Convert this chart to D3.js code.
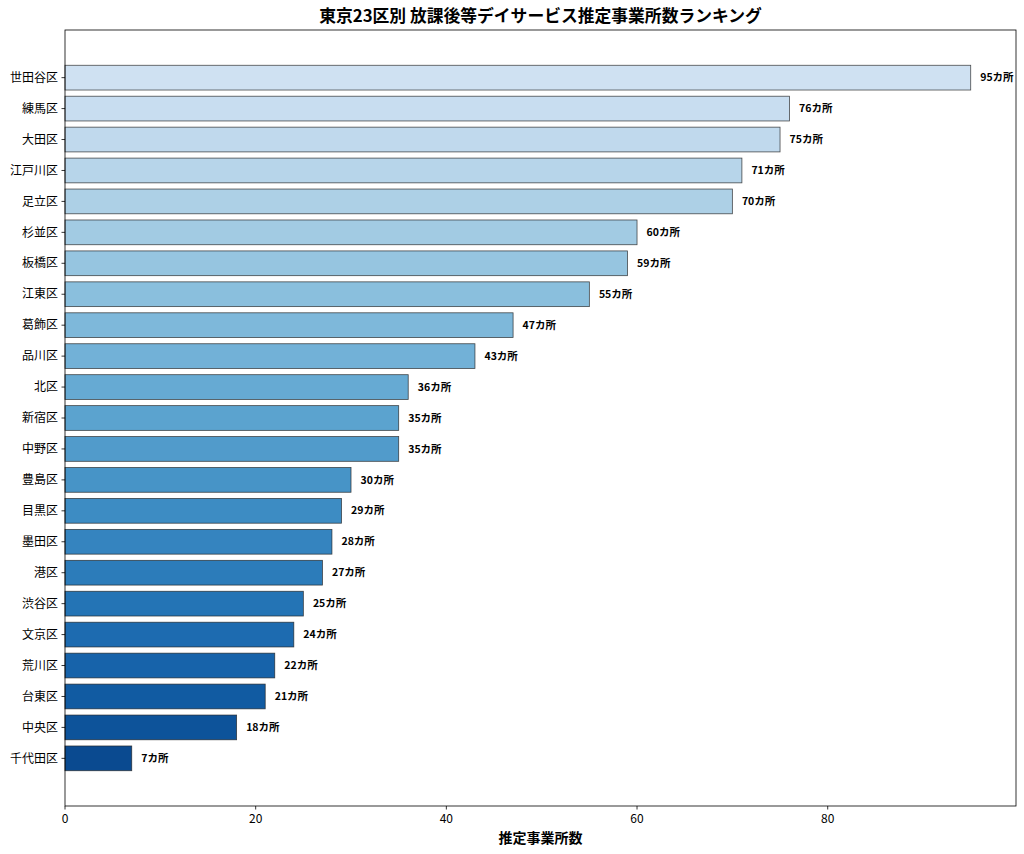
<!DOCTYPE html>
<html><head><meta charset="utf-8">
<script src="https://cdn.jsdelivr.net/npm/d3@7"></script>
<style>body{margin:0;background:#fff;} text{font-family:"Noto Sans CJK JP","Noto Sans",sans-serif;}</style>
</head><body>
<svg id="c" width="1024" height="854"></svg>
<script>
const wards = ["世田谷区","練馬区","大田区","江戸川区","足立区","杉並区","板橋区","江東区","葛飾区","品川区","北区","新宿区","中野区","豊島区","目黒区","墨田区","港区","渋谷区","文京区","荒川区","台東区","中央区","千代田区"];
const counts = [95,76,75,71,70,60,59,55,47,43,36,35,35,30,29,28,27,25,24,22,21,18,7];
const xTicks = [0,20,40,60,80];
const title = "東京23区別 放課後等デイサービス推定事業所数ランキング";
const xLabel = "推定事業所数";
const suffix = "カ所";

const svg = d3.select("#c");
const L=65, R=1016, T=30, B=806;
const n = wards.length;
const x = d3.scaleLinear().domain([0, d3.max(counts)*1.05]).range([L,R]);
const y = d3.scaleLinear().domain([-1.54, n-1+1.54]).range([T,B]);
const bh = y(0.4)-y(-0.4);
const color = i => d3.interpolateBlues(0.2 + 0.7*i/(n-1));

svg.selectAll("rect.bar").data(counts).join("rect")
  .attr("class","bar")
  .attr("x", x(0)).attr("y",(d,i)=>y(i)-bh/2)
  .attr("width", d=>x(d)-x(0)).attr("height", bh)
  .attr("fill",(d,i)=>color(i))
  .attr("stroke","#222").attr("stroke-opacity",0.8).attr("stroke-width",0.8);

svg.selectAll("text.val").data(counts).join("text")
  .attr("class","val")
  .attr("x", d=>x(d+1)).attr("y",(d,i)=>y(i))
  .attr("dy","0.35em")
  .attr("font-size",10.5).attr("font-weight","bold").attr("fill","#000")
  .text(d=>d+suffix);

// frame
svg.append("rect").attr("x",L).attr("y",T).attr("width",R-L).attr("height",B-T)
  .attr("fill","none").attr("stroke","#000").attr("stroke-width",0.8);

// y axis
const yg = svg.append("g");
wards.forEach((w,i)=>{
  yg.append("line").attr("x1",L-3.5).attr("x2",L).attr("y1",y(i)).attr("y2",y(i)).attr("stroke","#000").attr("stroke-width",0.8);
  yg.append("text").attr("x",L-7).attr("y",y(i)).attr("dy","0.35em").attr("text-anchor","end")
    .attr("font-size",12).attr("fill","#000").text(w);
});
// x axis
const xg = svg.append("g");
xTicks.forEach(t=>{
  xg.append("line").attr("x1",x(t)).attr("x2",x(t)).attr("y1",B).attr("y2",B+3.5).attr("stroke","#000").attr("stroke-width",0.8);
  xg.append("text").attr("x",x(t)).attr("y",B+17).attr("text-anchor","middle")
    .attr("font-size",12).attr("fill","#000").text(t);
});
svg.append("text").attr("x",(L+R)/2).attr("y",843).attr("text-anchor","middle")
  .attr("font-size",14).attr("font-weight","bold").text(xLabel);
svg.append("text").attr("x",(L+R)/2).attr("y",22).attr("text-anchor","middle")
  .attr("font-size",16.8).attr("font-weight","bold").text(title);
</script>
</body></html>
